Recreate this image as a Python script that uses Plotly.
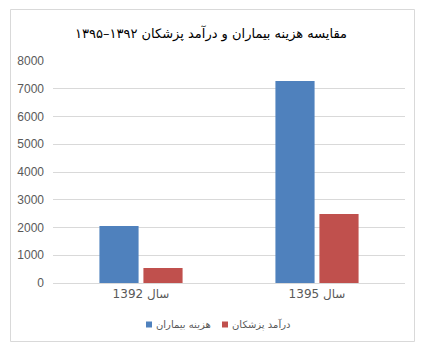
import plotly.graph_objects as go

categories = ["سال 1392", "سال 1395"]
series_names = ["هزینه بیماران", "درآمد پزشکان"]
costs = [2050, 7280]
income = [540, 2490]
y_ticks = [0, 1000, 2000, 3000, 4000, 5000, 6000, 7000, 8000]
title_text = "مقایسه هزینه بیماران و درآمد پزشکان ۱۳۹۲–۱۳۹۵"

colors = ["#4F81BD", "#C0504D"]
W, H = 422, 343
L, R, T, B = 53, 17, 61, 60
pw, ph = W - L - R, H - T - B

def px(x):
    return (x - L) / pw

def py(y):
    return (H - B - y) / ph

fig = go.Figure()
for name, vals, c in zip(series_names, [costs, income], colors):
    fig.add_trace(go.Bar(x=categories, y=vals, name=name, marker=dict(color=c, line=dict(width=0)),
                         showlegend=False, hoverinfo="skip"))

fig.update_layout(
    width=W, height=H,
    margin=dict(l=L, r=R, t=T, b=B),
    paper_bgcolor="white", plot_bgcolor="white",
    barmode="group", bargap=0.5, bargroupgap=0.11,
    font=dict(family="DejaVu Sans, sans-serif", color="#595959", size=12),
    title=dict(text=title_text, x=0.5, xref="container", xanchor="center",
               y=1 - 33 / H, yref="container", yanchor="middle",
               font=dict(family="DejaVu Sans", size=13, color="#000000")),
    xaxis=dict(showgrid=False, showline=True, linecolor="#D9D9D9", linewidth=1,
               ticks="", tickfont=dict(family="DejaVu Sans", size=12, color="#595959"),
               fixedrange=True),
    yaxis=dict(range=[0, 8000], tickvals=y_ticks, showgrid=True, gridcolor="#D9D9D9",
               gridwidth=1, zeroline=False, showline=False, ticks="",
               tickfont=dict(family="Liberation Sans", size=12, color="#595959"),
               ticklabelstandoff=8, fixedrange=True),
)

# chart border
fig.add_shape(type="rect", xref="paper", yref="paper",
              x0=px(10.5), x1=px(414.5), y0=py(341.5), y1=py(9.5),
              line=dict(color="#D9D9D9", width=1), fillcolor="rgba(0,0,0,0)", layer="below")

# legend (square + text per series)
sq_x = [146, 222]
for name, c, sx in zip(series_names, colors, sq_x):
    fig.add_shape(type="rect", xref="paper", yref="paper",
                  x0=px(sx), x1=px(sx + 6), y0=py(327.5), y1=py(321.5),
                  line=dict(width=0), fillcolor=c)
    fig.add_annotation(xref="paper", yref="paper", x=px(sx + 8), y=py(324.5),
                       xanchor="left", yanchor="middle", showarrow=False, text=name,
                       font=dict(family="DejaVu Sans", size=10, color="#595959"))

fig.write_html("out.html")
